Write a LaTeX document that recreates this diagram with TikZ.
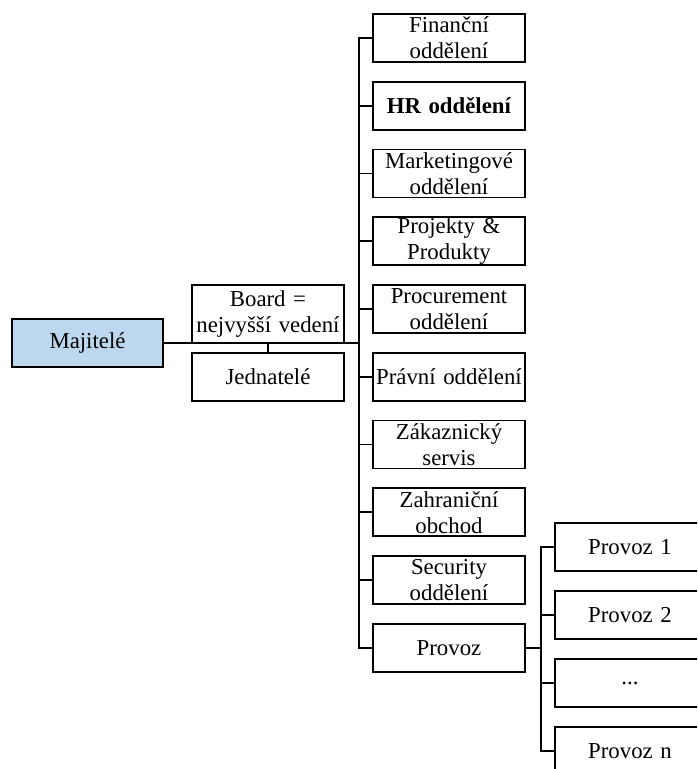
\documentclass[tikz,border=0pt]{standalone}
\usepackage{fontspec}
\setmainfont{Liberation Serif}
\definecolor{majfill}{HTML}{BDD7EE}
\begin{document}
\begin{tikzpicture}[x=1pt,y=-1pt,
  box/.style={draw=black, line width=1.9pt, fill=white, inner sep=0pt,
    minimum width=152pt, minimum height=48pt, text width=150pt, align=center,
    font=\fontsize{22.8}{26}\selectfont},
  conn/.style={draw=black, line width=1.9pt}]
\useasboundingbox (0,0) rectangle (697,769);
\clip (0,0) rectangle (697,769);
% left part
\node[box, fill=majfill, minimum width=151pt] (maj) at (87.5,343) {Majitelé};
\node[box, minimum height=58pt] (board) at (268,314) {Board =\\nejvyšší vedení};
\node[box] (jed) at (268,377) {Jednatelé};
% trunk coordinates
\coordinate (t) at (359,343);
% departments
\node[box] (d1) at (449,38) {Finanční\\oddělení};
\node[box] (d2) at (449,105.75) {\textbf{HR oddělení}};
\node[box] (d3) at (449,173.5) {Marketingové\\oddělení};
\node[box] (d4) at (449,241.25) {Projekty \&\\Produkty};
\node[box] (d5) at (449,309) {Procurement\\oddělení};
\node[box] (d6) at (449,376.75) {Právní oddělení};
\node[box] (d7) at (449,444.5) {Zákaznický\\servis};
\node[box] (d8) at (449,512.25) {Zahraniční\\obchod};
\node[box] (d9) at (449,580) {Security\\oddělení};
\node[box] (d10) at (449,647.75) {Provoz};
% sub boxes
\node[box, minimum width=150pt] (p1) at (630,547) {Provoz 1};
\node[box, minimum width=150pt] (p2) at (630,615) {Provoz 2};
\node[box, minimum width=150pt] (p3) at (630,683) {...};
\node[box, minimum width=150pt] (p4) at (630,751) {Provoz n};
% connectors
\draw[conn] (maj.east) -- (t);
\draw[conn] (board.south) -- (jed.north);
\draw[conn] (d1.west) -| (t) |- (d10.west);
\foreach \i in {2,...,9} {\draw[conn] (d\i.west) -- (t |- d\i.west);}
\coordinate (s) at (541,647.75);
\draw[conn] (d10.east) -- (s);
\draw[conn] (p1.west) -| (s) |- (p4.west);
\draw[conn] (p2.west) -- (s |- p2.west);
\draw[conn] (p3.west) -- (s |- p3.west);
\end{tikzpicture}
\end{document}
